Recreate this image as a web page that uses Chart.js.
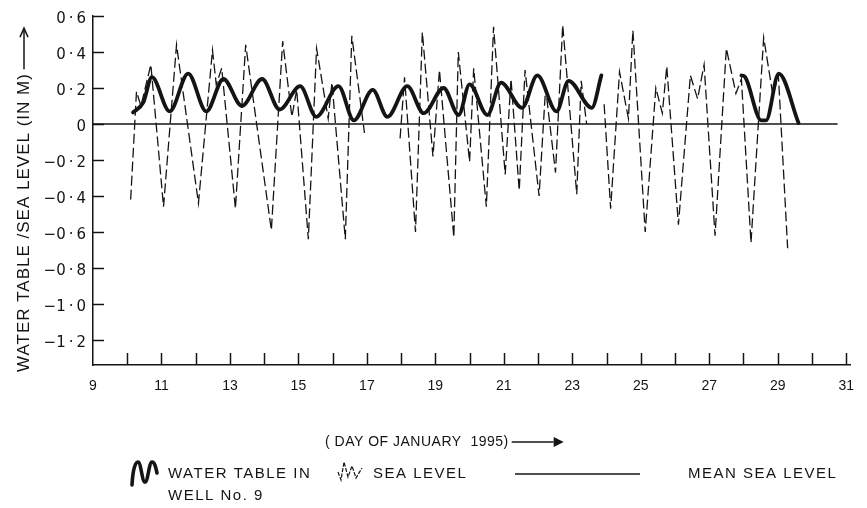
<!DOCTYPE html>
<html><head><meta charset="utf-8">
<script src="https://cdn.jsdelivr.net/npm/chart.js@4.4.1/dist/chart.umd.min.js"></script>
<style>html,body{margin:0;padding:0;background:#fff;}canvas{display:block;}</style>
</head><body>
<canvas id="c" width="867" height="508"></canvas>
<script>
// ---- data ----
const seaDays = [10.10,10.27,10.40,10.69,11.06,11.44,12.08,12.49,12.60,12.76,13.16,13.46,14.21,14.54,14.81,14.95,15.29,15.53,15.87,15.98,16.37,16.56,16.93,17.40,17.97,18.10,18.42,18.62,18.93,19.12,19.54,19.67,20.00,20.12,20.49,20.70,21.04,21.21,21.45,21.62,22.03,22.22,22.51,22.72,23.13,23.26,23.42,23.70,23.93,24.12,24.38,24.64,24.77,25.13,25.44,25.63,25.76,26.10,26.45,26.66,26.85,27.17,27.50,27.78,27.94,28.22,28.59,28.86,29.02,29.29];
const seaLevels = [-0.42,0.18,0.10,0.33,-0.46,0.44,-0.44,0.41,0.22,0.31,-0.47,0.44,-0.59,0.46,0.04,0.19,-0.64,0.42,0.03,0.23,-0.64,0.49,-0.05,null,-0.08,0.26,-0.60,0.51,-0.18,0.30,-0.63,0.40,-0.21,0.31,-0.46,0.54,-0.28,0.25,-0.37,0.30,-0.40,0.20,-0.27,0.55,-0.39,0.24,0.00,null,0.11,-0.47,0.29,0.03,0.52,-0.60,0.20,0.06,0.32,-0.56,0.27,0.14,0.33,-0.62,0.42,0.17,0.25,-0.66,0.48,0.16,0.27,-0.69];
const wellDays = [10.17,10.47,10.72,11.24,11.78,12.31,12.81,13.35,13.94,14.45,15.05,15.52,16.17,16.62,17.17,17.60,18.18,18.66,19.24,19.68,20.00,20.52,20.92,21.53,21.98,22.54,22.89,23.57,23.85,25.90,27.94,28.05,28.52,28.66,29.03,29.61];
const wellLevels = [0.064,0.12,0.26,0.07,0.28,0.07,0.25,0.10,0.25,0.08,0.21,0.04,0.21,0.02,0.19,0.04,0.21,0.06,0.20,0.05,0.22,0.05,0.23,0.09,0.27,0.07,0.24,0.09,0.27,null,0.27,0.26,0.02,0.02,0.28,0.005];
const meanDays = [9, 30.75];
const meanLevels = [0, 0];
const xTickValues = [9,10,11,12,13,14,15,16,17,18,19,20,21,22,23,24,25,26,27,28,29,30,31];
const xTickLabels = ['9','','11','','13','','15','','17','','19','','21','','23','','25','','27','','29','','31'];
const yTickValues = [-1.2,-1.0,-0.8,-0.6,-0.4,-0.2,0,0.2,0.4,0.6];
const yTickLabels = ['\u22121\u2009\u00b7\u20092','\u22121\u2009\u00b7\u20090','\u22120\u2009\u00b7\u20098','\u22120\u2009\u00b7\u20096','\u22120\u2009\u00b7\u20094','\u22120\u2009\u00b7\u20092','0','0\u2009\u00b7\u20092','0\u2009\u00b7\u20094','0\u2009\u00b7\u20096'];
const yTitle = 'WATER TABLE /SEA LEVEL (IN M)';
const xTitle = '( DAY OF JANUARY  1995)';
const legendWell = ['WATER TABLE IN', 'WELL No. 9'];
const legendSea = 'SEA LEVEL';
const legendMean = 'MEAN SEA LEVEL';

const INK = '#141414';
const FONT = "'Liberation Sans', Arial, sans-serif";

function pts(d, v) { return d.map((x, i) => ({ x: x, y: v[i] })); }

const decor = {
  id: 'decor',
  afterDraw(chart) {
    const ctx = chart.ctx, a = chart.chartArea, xs = chart.scales.x, ys = chart.scales.y;
    ctx.save();
    ctx.strokeStyle = INK; ctx.fillStyle = INK; ctx.lineWidth = 1.5; ctx.setLineDash([]);
    // inward tick marks
    yTickValues.forEach(v => {
      const y = Math.round(ys.getPixelForValue(v)) + 0.5;
      ctx.beginPath(); ctx.moveTo(a.left, y); ctx.lineTo(a.left + 11, y); ctx.stroke();
    });
    xTickValues.forEach(d => {
      if (d === 9) return;
      const x = Math.round(xs.getPixelForValue(d)) + 0.5;
      ctx.beginPath(); ctx.moveTo(x, a.bottom); ctx.lineTo(x, a.bottom - 12); ctx.stroke();
    });
    // y title with arrow
    ctx.save();
    ctx.translate(24, 372); ctx.rotate(-Math.PI / 2);
    ctx.font = '17px ' + FONT; ctx.letterSpacing = '1px';
    ctx.textAlign = 'left'; ctx.textBaseline = 'middle';
    ctx.fillText(yTitle, 0, 0);
    const w = ctx.measureText(yTitle).width;
    ctx.beginPath(); ctx.moveTo(w + 4, 0); ctx.lineTo(w + 44, 0); ctx.stroke();
    ctx.beginPath(); ctx.moveTo(w + 36, -4); ctx.lineTo(w + 45, 0); ctx.lineTo(w + 36, 4); ctx.stroke();
    ctx.restore();
    // x title with arrow
    ctx.font = '14px ' + FONT; ctx.letterSpacing = '0.5px';
    ctx.textAlign = 'left'; ctx.textBaseline = 'middle';
    const tx = 325, ty = 442;
    ctx.fillText(xTitle, tx, ty);
    const tw = ctx.measureText(xTitle).width;
    ctx.beginPath(); ctx.moveTo(tx + tw + 3, ty); ctx.lineTo(tx + tw + 45, ty); ctx.stroke();
    ctx.beginPath(); ctx.moveTo(tx + tw + 45, ty - 5); ctx.lineTo(tx + tw + 55, ty); ctx.lineTo(tx + tw + 45, ty + 5); ctx.closePath(); ctx.fill();
    // legend
    const LY = 474;
    ctx.font = '15px ' + FONT; ctx.letterSpacing = '1.5px';
    ctx.lineWidth = 3.6; ctx.lineCap = 'round';
    ctx.beginPath();
    ctx.moveTo(132, LY + 11);
    ctx.bezierCurveTo(133, LY - 8, 136, LY - 12, 138, LY - 12);
    ctx.bezierCurveTo(141, LY - 12, 142, LY + 8, 145, LY + 8);
    ctx.bezierCurveTo(148, LY + 8, 149, LY - 12, 152, LY - 12);
    ctx.bezierCurveTo(155, LY - 12, 156, LY - 5, 157, LY - 1);
    ctx.stroke();
    ctx.lineCap = 'butt';
    ctx.fillText(legendWell[0], 168, LY);
    ctx.fillText(legendWell[1], 168, LY + 22);
    ctx.lineWidth = 1.2; ctx.setLineDash([4, 1.5]);
    ctx.beginPath();
    ctx.moveTo(338, LY - 2); ctx.lineTo(341, LY + 6); ctx.lineTo(344, LY - 12); ctx.lineTo(348, LY + 3);
    ctx.lineTo(352, LY - 8); ctx.lineTo(356, LY + 4); ctx.lineTo(362, LY - 6);
    ctx.stroke();
    ctx.setLineDash([]);
    ctx.fillText(legendSea, 373, LY);
    ctx.lineWidth = 1.5;
    ctx.beginPath(); ctx.moveTo(515, LY); ctx.lineTo(640, LY); ctx.stroke();
    ctx.fillText(legendMean, 688, LY);
    ctx.restore();
  }
};

new Chart(document.getElementById('c'), {
  type: 'line',
  data: {
    datasets: [
      { label: 'Mean sea level', data: pts(meanDays, meanLevels), borderColor: INK, borderWidth: 1.5, pointRadius: 0, tension: 0 },
      { label: 'Sea level', data: pts(seaDays, seaLevels), borderColor: INK, borderWidth: 1.3, borderDash: [10, 4], pointRadius: 0, tension: 0, spanGaps: false },
      { label: 'Water table in well No. 9', data: pts(wellDays, wellLevels), borderColor: INK, borderWidth: 3.8, pointRadius: 0, cubicInterpolationMode: 'monotone', spanGaps: false, borderCapStyle: 'round', borderJoinStyle: 'round' }
    ]
  },
  options: {
    responsive: false, animation: false, devicePixelRatio: 1,
    layout: { padding: { top: 16, right: 7, left: 0, bottom: 0 } },
    plugins: { legend: { display: false }, tooltip: { enabled: false } },
    scales: {
      x: {
        type: 'linear', min: 9, max: 31.14,
        afterBuildTicks: s => { s.ticks = xTickValues.map(v => ({ value: v })); },
        afterFit: s => { s.height = 143; },
        grid: { display: true, drawOnChartArea: false, drawTicks: false },
        border: { display: true, color: INK, width: 1.5 },
        ticks: { autoSkip: false, maxRotation: 0, padding: 13, color: INK, font: { family: FONT, size: 14 },
          callback: (v) => { const i = xTickValues.indexOf(v); return i >= 0 ? xTickLabels[i] : ''; } }
      },
      y: {
        min: -1.339, max: 0.6,
        afterBuildTicks: s => { s.ticks = yTickValues.map(v => ({ value: v })); },
        afterFit: s => { s.width = 93; },
        grid: { display: true, drawOnChartArea: false, drawTicks: false },
        border: { display: true, color: INK, width: 1.5 },
        ticks: { padding: 7, labelOffset: 3, color: INK, font: { family: "'DejaVu Sans', sans-serif", size: 15 },
          callback: (v) => { const i = yTickValues.findIndex(t => Math.abs(t - v) < 1e-6); return i >= 0 ? yTickLabels[i] : ''; } }
      }
    }
  },
  plugins: [decor]
});
</script>
</body></html>
